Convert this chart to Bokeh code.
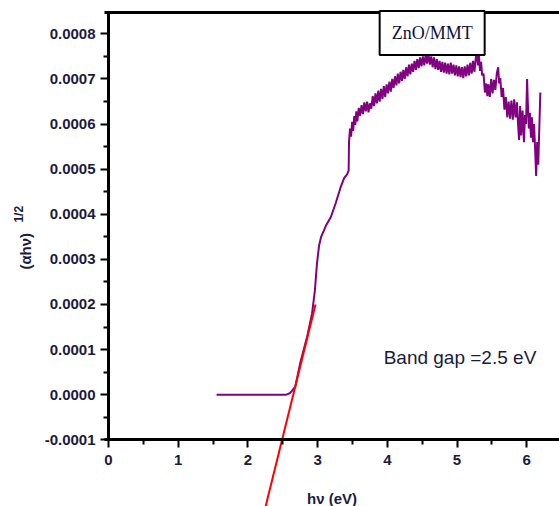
import math
from bokeh.plotting import figure
from bokeh.models import Range1d, Label, NumeralTickFormatter, FixedTicker, LinearAxis
from bokeh.embed import file_html
from bokeh.resources import INLINE

# ---- data ----
# smooth part: flat baseline and absorption edge
edge_x = [1.55, 2.55, 2.60, 2.64, 2.68, 2.75, 2.85, 2.92, 2.96, 2.99, 3.02, 3.05,
          3.12, 3.19, 3.26, 3.33, 3.38, 3.42, 3.445]
edge_y = [0.0, 0.0, 0.000003, 0.00001, 0.000018, 0.00007, 0.000129, 0.00018, 0.00023,
          0.00029, 0.00033, 0.00035, 0.000375, 0.000394, 0.000425, 0.00046, 0.00048,
          0.000488, 0.000497]

# noisy plateau part
noisy_x = [3.450, 3.465, 3.480, 3.495, 3.510, 3.525, 3.540, 3.555, 3.570, 3.590,
           3.610, 3.630, 3.650, 3.670, 3.690, 3.710, 3.730, 3.750, 3.770, 3.790,
           3.810, 3.830, 3.850, 3.870, 3.890, 3.910, 3.930, 3.950, 3.970, 3.990,
           4.010, 4.030, 4.050, 4.070, 4.090, 4.110, 4.130, 4.150, 4.170, 4.190,
           4.210, 4.230, 4.250, 4.270, 4.290, 4.310, 4.330, 4.350, 4.370, 4.390,
           4.410, 4.430, 4.450, 4.470, 4.490, 4.510, 4.530, 4.550, 4.570, 4.590,
           4.610, 4.630, 4.650, 4.670, 4.690, 4.710, 4.730, 4.750, 4.770, 4.790,
           4.810, 4.830, 4.850, 4.870, 4.890, 4.910, 4.930, 4.950, 4.970, 4.990,
           5.010, 5.030, 5.050, 5.070, 5.090, 5.110, 5.130, 5.150, 5.170, 5.190,
           5.210, 5.230, 5.250, 5.270, 5.285, 5.300, 5.315, 5.330, 5.345, 5.360,
           5.380, 5.400, 5.420, 5.435, 5.450, 5.470, 5.490, 5.510, 5.530, 5.550,
           5.570, 5.590, 5.605, 5.620, 5.640, 5.660, 5.680, 5.700, 5.720, 5.740,
           5.760, 5.780, 5.800, 5.820, 5.840, 5.860, 5.875, 5.890, 5.905, 5.920,
           5.940, 5.960, 5.975, 5.990, 6.005, 6.015, 6.030, 6.045, 6.060, 6.075,
           6.090, 6.105, 6.120, 6.135, 6.150, 6.165, 6.180, 6.195]
noisy_y = [0.000560, 0.000590, 0.000572, 0.000605, 0.000585, 0.000618, 0.000598, 0.000628, 0.000606, 0.000636,
           0.000618, 0.000642, 0.000622, 0.000648, 0.000628, 0.000650, 0.000626, 0.000646, 0.000634, 0.000662,
           0.000640, 0.000668, 0.000646, 0.000674, 0.000650, 0.000678, 0.000656, 0.000684, 0.000660, 0.000688,
           0.000668, 0.000694, 0.000672, 0.000700, 0.000680, 0.000706, 0.000686, 0.000712, 0.000690, 0.000716,
           0.000696, 0.000720, 0.000700, 0.000726, 0.000706, 0.000732, 0.000710, 0.000734, 0.000716, 0.000740,
           0.000720, 0.000744, 0.000724, 0.000748, 0.000728, 0.000750, 0.000730, 0.000754, 0.000734, 0.000756,
           0.000732, 0.000750, 0.000726, 0.000748, 0.000722, 0.000744, 0.000720, 0.000740, 0.000716, 0.000738,
           0.000714, 0.000736, 0.000712, 0.000734, 0.000710, 0.000736, 0.000712, 0.000732, 0.000708, 0.000730,
           0.000706, 0.000728, 0.000704, 0.000726, 0.000702, 0.000728, 0.000706, 0.000732, 0.000708, 0.000736,
           0.000712, 0.000740, 0.000716, 0.000748, 0.000760, 0.000730, 0.000752, 0.000718, 0.000738, 0.000708,
           0.000712, 0.000670, 0.000690, 0.000662, 0.000688, 0.000660, 0.000700, 0.000668, 0.000698, 0.000676,
           0.000712, 0.000726, 0.000690, 0.000702, 0.000660, 0.000680, 0.000632, 0.000660, 0.000615, 0.000650,
           0.000612, 0.000652, 0.000610, 0.000655, 0.000615, 0.000648, 0.000600, 0.000565, 0.000640, 0.000575,
           0.000630, 0.000560, 0.000620, 0.000600, 0.000700, 0.000650, 0.000590, 0.000625, 0.000570, 0.000615,
           0.000560, 0.000600, 0.000545, 0.000485, 0.000560, 0.000510, 0.000590, 0.000670]

curve_x = edge_x + noisy_x
curve_y = edge_y + noisy_y

# linear fit (tangent) used to extract the band gap
fit_x = [2.25, 2.97]
fit_y = [-0.00025, 0.0002]

x_ticks = [0, 1, 2, 3, 4, 5, 6]
x_minor = [0.5, 1.5, 2.5, 3.5, 4.5, 5.5, 6.5]
y_ticks = [-0.0001, 0.0, 0.0001, 0.0002, 0.0003, 0.0004, 0.0005, 0.0006, 0.0007, 0.0008]
y_minor = [-0.00005, 0.00005, 0.00015, 0.00025, 0.00035, 0.00045, 0.00055, 0.00065, 0.00075]
frame_top = 0.000848

sample_label = "ZnO/MMT"
gap_label = "Band gap =2.5 eV"
x_title = "hν (eV)"
y_title = "(αhν)"
y_title_sup = "1/2"

# ---- figure ----
TXT = "#1b1b3b"
p = figure(width=559, height=506, output_backend="svg", toolbar_location=None,
           x_range=Range1d(-1.55, 6.47), y_range=Range1d(-0.000248, 0.000874),
           min_border_left=0, min_border_right=0, min_border_top=0, min_border_bottom=0)
p.grid.visible = False
p.outline_line_color = None
p.background_fill_color = "white"
p.border_fill_color = "white"

p.line(curve_x, curve_y, line_color="#800080", line_width=2)
p.line(fit_x, fit_y, line_color="#ff0000", line_width=2)

# x axis, pinned at y = -0.0001
xa = p.xaxis[0]
xa.fixed_location = -0.0001
xa.bounds = (-0.06, 6.47)
xa.ticker = FixedTicker(ticks=x_ticks, minor_ticks=x_minor)
xa.axis_label = x_title
xa.axis_label_standoff = 22

# y axis, pinned at x = 0
ya = p.yaxis[0]
ya.fixed_location = 0
ya.ticker = FixedTicker(ticks=y_ticks, minor_ticks=y_minor)
ya.formatter = NumeralTickFormatter(format="0.0000")
ya.bounds = (-0.0001, frame_top)
ya.major_label_standoff = 5

for ax in (xa, ya):
    ax.axis_line_width = 3
    ax.axis_line_color = "black"
    ax.major_tick_in = 0
    ax.major_tick_out = 8
    ax.minor_tick_in = 0
    ax.minor_tick_out = 5
    ax.major_tick_line_width = 2
    ax.minor_tick_line_width = 2
    ax.major_label_text_font = "Liberation Sans"
    ax.major_label_text_font_style = "bold"
    ax.major_label_text_font_size = "15px"
    ax.major_label_text_color = TXT
    ax.axis_label_text_font = "Liberation Sans"
    ax.axis_label_text_font_style = "bold"
    ax.axis_label_text_font_size = "15px"
    ax.axis_label_text_color = TXT
xa.major_label_standoff = 7

# top border of the plot box: a tick-less axis pinned at the top value
top_axis = LinearAxis(fixed_location=frame_top, bounds=(-0.06, 6.47),
                      ticker=FixedTicker(ticks=[-5.0], minor_ticks=[]),
                      axis_line_width=3, axis_line_color="black",
                      major_tick_in=0, major_tick_out=0, minor_tick_in=0, minor_tick_out=0,
                      major_tick_line_color=None, minor_tick_line_color=None,
                      major_label_text_color=None)
p.add_layout(top_axis, "below")

# y axis title: (αhν) with superscript 1/2
p.add_layout(Label(x=-1.191, y=0.000318, text=y_title, angle=math.pi / 2,
                   text_align="center", text_baseline="middle",
                   text_font="Liberation Sans", text_font_style="bold",
                   text_font_size="15px", text_color=TXT))
p.add_layout(Label(x=-1.285, y=0.0004, text=y_title_sup, angle=math.pi / 2,
                   text_align="center", text_baseline="middle",
                   text_font="Liberation Sans", text_font_style="bold",
                   text_font_size="12px", text_color=TXT))

p.add_layout(Label(x=4.643, y=0.000802, text=sample_label,
                   text_align="center", text_baseline="middle",
                   text_font="Liberation Serif", text_font_size="18px", text_color="#101030",
                   border_line_color="black", border_line_width=2,
                   background_fill_color="white", padding=12))

p.add_layout(Label(x=3.947, y=0.000083, text=gap_label,
                   text_align="left", text_baseline="middle",
                   text_font="Liberation Sans", text_font_size="19px", text_color=TXT))

open("out.html", "w").write(file_html(p, INLINE))
